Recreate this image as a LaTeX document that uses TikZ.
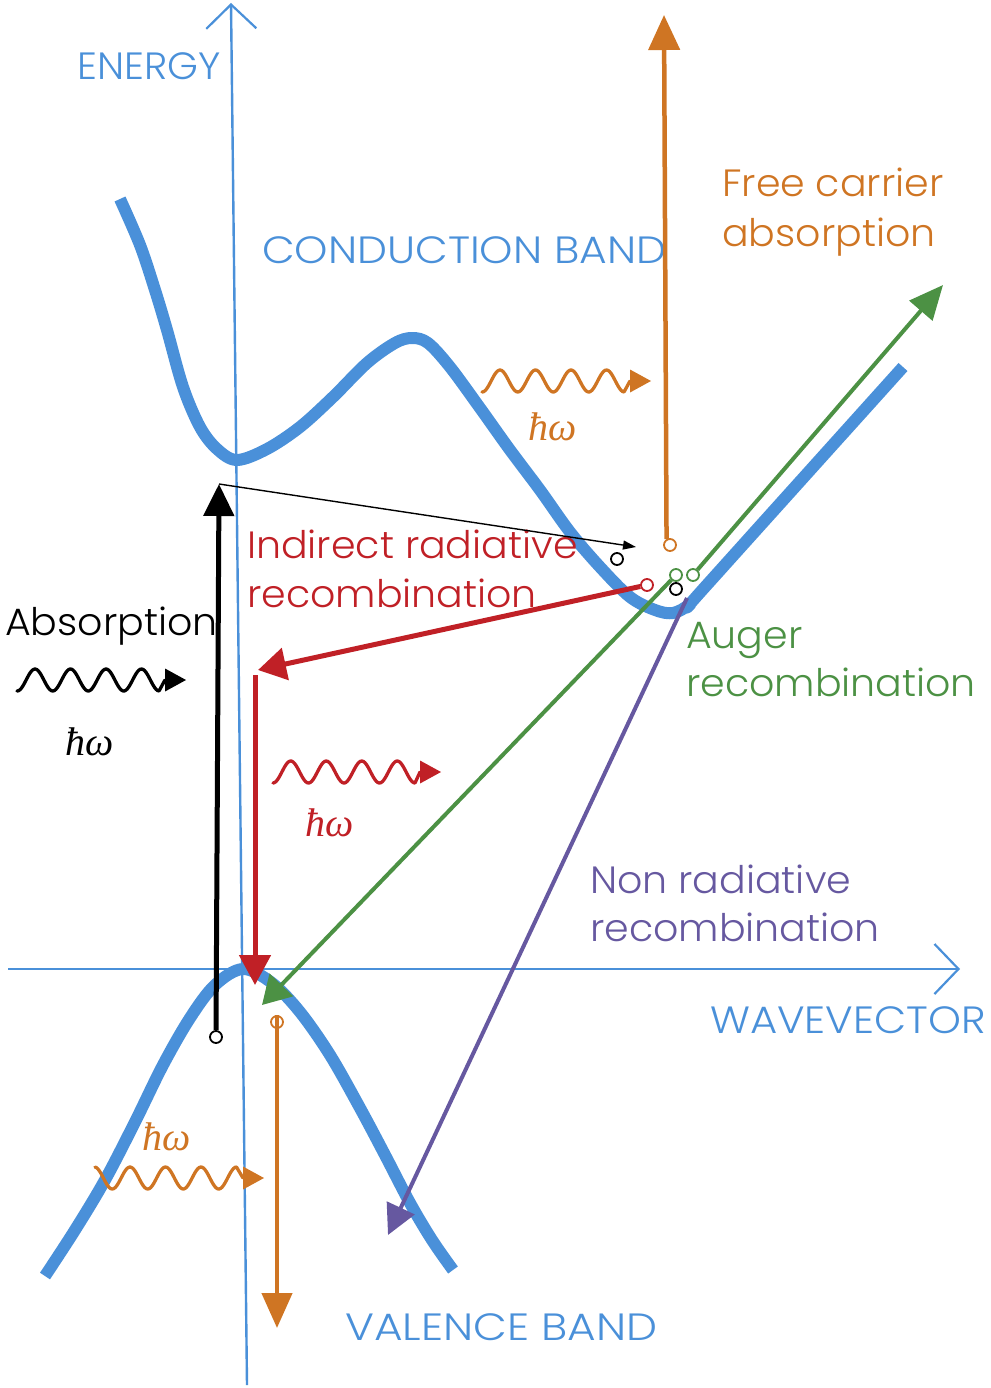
\documentclass[tikz,border=0pt]{standalone}
\usepackage{fontspec}
\setmainfont{Poppins}[UprightFont={* Light}, FakeStretch=1.04]
\newfontfamily\capsfont{Poppins}[UprightFont={* Light}, FakeStretch=1.1]
\newfontfamily\hwfont{Liberation Serif}
\usetikzlibrary{arrows.meta}
\definecolor{bandblue}{RGB}{74,144,217}
\definecolor{fcorange}{RGB}{207,117,35}
\definecolor{irred}{RGB}{192,32,38}
\definecolor{augreen}{RGB}{76,145,68}
\definecolor{nrpurple}{RGB}{102,88,160}
\newcommand\photonwave[7]{%
  \draw[#1, line width=3.3pt, line cap=round, line join=round]
    plot[domain=#2:#3, samples=100, smooth] (\x,{#4-11*cos(10.1408*(\x-#5))}) -- (#6,#4);
  \fill[#1] (#6,#4-11.5) -- (#7,#4) -- (#6,#4+11.5) -- cycle;}
\begin{document}
\begin{tikzpicture}[x=1pt,y=-1pt,
  band/.style={bandblue, line width=12pt, line cap=butt, line join=round},
  axisline/.style={bandblue, line width=2.4pt, -{Straight Barb[length=24pt,width=50pt,line width=2.2pt]}},
  carrier/.style={circle, draw=#1, line width=1.8pt, fill=white, minimum size=12pt, inner sep=0pt},
  lbl/.style={font=\fontsize{38}{46}\selectfont, inner sep=0pt, anchor=base west},
  caps/.style={font=\fontsize{38}{46}\capsfont, inner sep=0pt, anchor=base west},
  hw/.style={inner sep=0pt, font=\fontsize{40}{44}\hwfont\itshape}
]
\useasboundingbox (0,0) rectangle (990,1388);
% axes
\coordinate (ea0) at (247,1385);
\coordinate (ea1) at (231,3);
\coordinate (wv0) at (8,969);
\coordinate (wv1) at (960,969);
\draw[axisline] (ea0) -- (ea1);
\draw[axisline] (wv0) -- (wv1);
% bands
\draw[band] plot[smooth, tension=0.55] coordinates {(120,199) (140,245) (155,290) (167,330) (183,387) (200,427) (217,449) (237,460) (267,449) (300,427) (333,397) (367,363) (395,343) (412,338) (428,343) (450,367) (480,408) (510,450) (540,490) (570,532) (600,567) (630,597) (655,610) (673,613) (690,604) (705,587) (903,367)};
\draw[band] plot[smooth, tension=0.55] coordinates {(45,1276) (75,1230) (105,1180) (135,1122) (163,1065) (190,1018) (215,985) (243,969) (272,983) (300,1012) (330,1055) (360,1108) (385,1155) (410,1203) (432,1240) (453,1270)};
% labels
\node[lbl, text=bandblue] (energy) at (77,80) {ENERGY};
\node[caps, text=bandblue] (cb) at (262,263) {\scalebox{1.015}[1]{CONDUCTION BAND}};
\node[lbl, text=fcorange] (fca1) at (722,197) {Free carrier};
\node[lbl, text=fcorange] (fca2) at (722,247) {absorption};
\node[lbl, text=irred] (irr1) at (247,558) {Indirect radiative};
\node[lbl, text=irred] (irr2) at (247,607) {recombination};
\node[lbl] (absl) at (5,635) {Absorption};
\node[lbl, text=augreen] (aug1) at (686,648) {Auger};
\node[lbl, text=augreen] (aug2) at (686,696) {recombination};
\node[lbl, text=nrpurple] (nrr1) at (590,893) {Non radiative};
\node[lbl, text=nrpurple] (nrr2) at (590,941) {recombination};
\node[caps, text=bandblue] (wvl) at (710,1033) {WAVEVECTOR};
\node[caps, text=bandblue] (vb) at (345,1340) {\scalebox{1.05}[1]{VALENCE BAND}};
% hbar omega
\node[hw, text=fcorange] (hw1) at (553,427) {ħω};
\node[hw] (hw2) at (90,742) {ħω};
\node[hw, text=irred] (hw3) at (330,823) {ħω};
\node[hw, text=fcorange] (hw4) at (167,1137) {ħω};
% carriers
\node[carrier=black] (abs0) at (216,1037) {};
\node[carrier=black] (e1) at (617,559) {};
\node[carrier=black] (e2) at (676,589) {};
\node[carrier=fcorange] (fc0) at (670,545) {};
\node[carrier=irred] (ir0) at (647,585) {};
\node[carrier=augreen] (ag0) at (676,575) {};
\node[carrier=augreen] (ag1) at (693,575) {};
\node[carrier=fcorange] (fv0) at (277,1022) {};
% arrow ends
\coordinate (abs1) at (219,484);
\coordinate (t1) at (636,547);
\coordinate (fc1) at (664,15);
\coordinate (ir1) at (258,670);
\coordinate (ir2) at (255,675);
\coordinate (ir3) at (255,985);
\coordinate (ag2) at (262,1005);
\coordinate (ag3) at (943,285);
\coordinate (nr0) at (687,598);
\coordinate (nr1) at (388,1235);
\coordinate (fv1) at (277,1328);
% transitions
\draw[line width=5pt, -{Triangle[length=32pt,width=30pt]}] (abs0) -- (abs1);
\draw[line width=1.4pt, -{Triangle[length=13pt,width=9pt]}] (abs1) -- (t1);
\draw[fcorange, line width=4.5pt, -{Triangle[length=35pt,width=31pt]}] (fc0.120) -- (fc1);
\draw[irred, line width=5pt, -{Triangle[length=28pt,width=32pt]}] (ir0) -- (ir1);
\draw[irred, line width=5pt, -{Triangle[length=30pt,width=31pt]}] (ir2) -- (ir3);
\draw[augreen, line width=4pt, -{Triangle[length=28pt,width=32pt]}] (ag0) -- (ag2);
\draw[augreen, line width=4pt, -{Triangle[length=34pt,width=30pt]}] (ag1) -- (ag3);
\draw[nrpurple, line width=4pt, -{Triangle[length=30pt,width=30pt]}] (nr0) -- (nr1);
\draw[fcorange, line width=4.5pt, -{Triangle[length=35pt,width=30pt]}] (fv0.north) -- (fv1);
% photons
\photonwave{fcorange}{482}{624}{381}{500}{630}{651}
\photonwave{black}{17}{159}{680}{35}{165}{186}
\photonwave{irred}{273}{415}{772}{290.75}{420}{441}
\photonwave{fcorange}{95}{236.5}{1178}{94.5}{243}{264}
\end{tikzpicture}
\end{document}
